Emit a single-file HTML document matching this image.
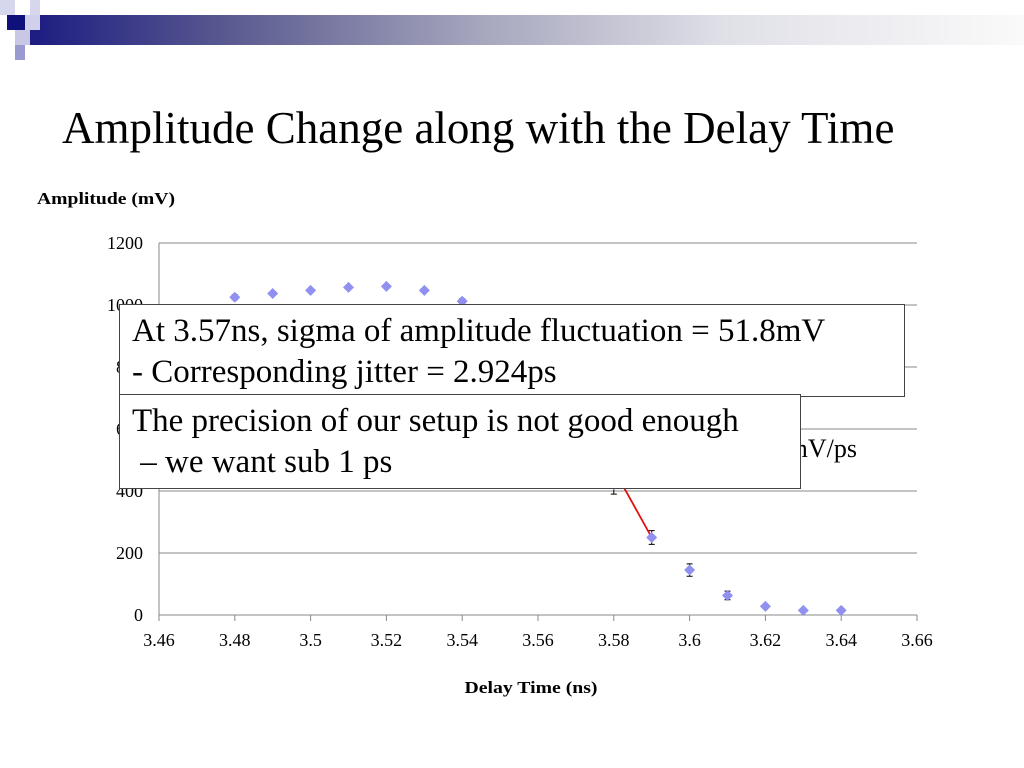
<!DOCTYPE html>
<html><head><meta charset="utf-8">
<style>
body{margin:0;width:1024px;height:768px;background:#fff;position:relative;overflow:hidden;font-family:"Liberation Serif",serif;}
.box{position:absolute;background:#fff;border:1.5px solid #444;font-size:33px;line-height:41px;color:#000;padding:0 12px;box-sizing:border-box;white-space:nowrap;}
</style></head>
<body>
<div style="position:absolute;left:30px;top:15px;width:994px;height:30px;background:linear-gradient(to right,#1c1c82 0%,#5a5a90 20%,#a5a5bd 45%,#e0e0e8 70%,#fafafa 100%);"></div>
<div style="position:absolute;left:0;top:0;width:15px;height:15px;background:#d6d6ec"></div>
<div style="position:absolute;left:30px;top:0;width:10px;height:15px;background:#d6d6ec"></div>
<div style="position:absolute;left:7px;top:15px;width:18px;height:15px;background:#10107a"></div>
<div style="position:absolute;left:25px;top:15px;width:15px;height:15px;background:#d0d0ea"></div>
<div style="position:absolute;left:15px;top:30px;width:15px;height:15px;background:#c8c8e4"></div>
<div style="position:absolute;left:15px;top:45px;width:10px;height:15px;background:#9a9ad0"></div>
<div style="position:absolute;left:62px;top:102px;font-size:45px;color:#000;white-space:nowrap;">Amplitude Change along with the Delay Time</div>

<svg id="chart" width="1024" height="768" style="position:absolute;left:0;top:0">
</svg>

<div class="box" style="left:119px;top:304px;width:786px;height:93px;padding-top:6px;">At 3.57ns, sigma of amplitude fluctuation = 51.8mV<br>- Corresponding jitter = 2.924ps</div>
<div class="box" style="left:119px;top:394px;width:682px;height:95px;padding-top:6px;">The precision of our setup is not good enough<br>&nbsp;– we want sub 1 ps</div>

<script>
const xs=[3.48,3.49,3.5,3.51,3.52,3.53,3.54,3.55,3.56,3.57,3.58,3.59,3.6,3.61,3.62,3.63,3.64];
const amps=[1025,1037,1047,1057,1060,1047,1012,950,830,650,420,250,145,63,28,15,15];
const errs=[8,6,6,6,6,6,8,15,25,52,30,22,20,14,6,4,4];
const xTicks=[3.46,3.48,3.5,3.52,3.54,3.56,3.58,3.6,3.62,3.64,3.66];
const yTicks=[0,200,400,600,800,1000,1200];
const fitX=[3.58,3.59];
const fitY=[470,250];
const X=v=>159+(v-3.46)/0.2*758;
const Y=v=>615-v/1200*372;
const svg=document.getElementById('chart');
const NS='http://www.w3.org/2000/svg';
function mk(t,a){const e=document.createElementNS(NS,t);for(const k in a)e.setAttribute(k,a[k]);svg.appendChild(e);return e;}
yTicks.forEach(v=>{
 const l=mk('line',{x1:159,x2:917,y1:Y(v),y2:Y(v),stroke:'#888','stroke-width':1});
 
 
 const t=mk('text',{x:143,y:Y(v)+6,'text-anchor':'end','font-size':18,'font-family':'Liberation Serif'});
 t.textContent=v;
 
 
});
const ya=mk('line',{x1:159,x2:159,y1:243,y2:615,stroke:'#888'});


xTicks.forEach(v=>{
 const l=mk('line',{x1:X(v),x2:X(v),y1:615,y2:621,stroke:'#888'});
 
 
 const t=mk('text',{x:X(v),y:646,'text-anchor':'middle','font-size':18,'font-family':'Liberation Serif'});
 t.textContent=String(v);
 
 
});
const fl=mk('line',{x1:X(fitX[0]),y1:Y(fitY[0]),x2:X(fitX[1]),y2:Y(fitY[1]),stroke:'#e01010','stroke-width':1.8});


xs.forEach((x,i)=>{
 const cx=X(x),cy=Y(amps[i]),e=errs[i]*0.31;
 const b=mk('path',{d:`M${cx},${cy-e}V${cy+e}M${cx-3},${cy-e}H${cx+3}M${cx-3},${cy+e}H${cx+3}`,stroke:'#000','stroke-width':1,fill:'none'});
 
 
 const p=mk('path',{d:`M${cx},${cy-5.5}L${cx+5.5},${cy}L${cx},${cy+5.5}L${cx-5.5},${cy}Z`,fill:'#9090f0'});
 
 
});
const st=mk('text',{x:857,y:457,'text-anchor':'end','font-size':26,'font-family':'Liberation Serif'});
st.textContent='Slope = -17.0mV/ps';


const yt=mk('text',{x:37,y:204,'font-size':17,'font-weight':'bold','font-family':'Liberation Serif',textLength:138,lengthAdjust:'spacingAndGlyphs'});
yt.textContent='Amplitude (mV)';


const xt=mk('text',{x:531,y:693,'text-anchor':'middle','font-size':17,'font-weight':'bold','font-family':'Liberation Serif',textLength:133,lengthAdjust:'spacingAndGlyphs'});
xt.textContent='Delay Time (ns)';


</script>
</body></html>
